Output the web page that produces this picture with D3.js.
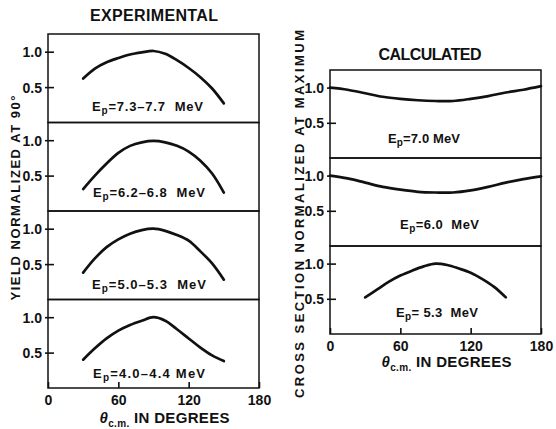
<!DOCTYPE html>
<html>
<head>
<meta charset="utf-8">
<script src="https://cdn.jsdelivr.net/npm/d3@7/dist/d3.min.js"></script>
<style>
  html, body { margin: 0; padding: 0; background: #fff; }
  svg text { font-family: "Liberation Sans", "DejaVu Sans", sans-serif; font-weight: bold; fill: #111; white-space: pre; }
</style>
</head>
<body>
<script>
// Angular distributions, normalized yield vs. centre-of-mass angle (degrees)
const expAngles = [30, 40, 50, 60, 70, 80, 90, 100, 110, 120, 130, 140, 150];
const exp73 = [0.62, 0.76, 0.85, 0.91, 0.96, 0.99, 1.01, 0.97, 0.88, 0.77, 0.64, 0.48, 0.27];
const exp62 = [0.31, 0.50, 0.67, 0.82, 0.92, 0.97, 0.99, 0.97, 0.92, 0.84, 0.71, 0.53, 0.26];
const exp50 = [0.38, 0.58, 0.74, 0.85, 0.93, 0.98, 1.00, 0.97, 0.91, 0.83, 0.68, 0.51, 0.28];
const exp40 = [0.40, 0.56, 0.70, 0.81, 0.89, 0.95, 1.00, 0.95, 0.83, 0.70, 0.57, 0.46, 0.38];

const calcAnglesFull = [0, 15, 30, 45, 60, 75, 90, 105, 120, 135, 150, 165, 180];
const calc70 = [1.00, 0.97, 0.92, 0.87, 0.84, 0.82, 0.81, 0.81, 0.84, 0.88, 0.93, 0.97, 1.02];
const calc60 = [1.00, 0.96, 0.90, 0.84, 0.80, 0.77, 0.76, 0.76, 0.79, 0.84, 0.90, 0.95, 0.99];
const calcAngles53 = [30, 40, 50, 60, 70, 80, 90, 100, 110, 120, 130, 140, 150];
const calc53 = [0.52, 0.63, 0.74, 0.83, 0.90, 0.96, 1.00, 0.98, 0.93, 0.87, 0.78, 0.67, 0.52];

const expLabels = ["=7.3–7.7\u00a0\u00a0MeV", "=6.2–6.8\u00a0\u00a0MeV", "=5.0–5.3\u00a0\u00a0MeV", "=4.0–4.4\u00a0MeV"];
const calcLabels = ["=7.0\u00a0MeV", "=6.0\u00a0\u00a0MeV", "=\u00a05.3\u00a0\u00a0MeV"];

const xTicks = [0, 60, 120, 180];
const yTicks = [0.5, 1.0];
const yDomain = [0, 1.25];

const expPanels = [
  { id: "e73", x: expAngles, y: exp73, label: expLabels[0] },
  { id: "e62", x: expAngles, y: exp62, label: expLabels[1] },
  { id: "e50", x: expAngles, y: exp50, label: expLabels[2] },
  { id: "e40", x: expAngles, y: exp40, label: expLabels[3] }
];
const calcPanels = [
  { id: "c70", x: calcAnglesFull, y: calc70, label: calcLabels[0] },
  { id: "c60", x: calcAnglesFull, y: calc60, label: calcLabels[1] },
  { id: "c53", x: calcAngles53, y: calc53, label: calcLabels[2] }
];

const svg = d3.select("body").append("svg")
  .attr("width", 556).attr("height", 429);

function drawStack(cfg) {
  const x = d3.scaleLinear().domain([0, 180]).range([cfg.left, cfg.right]);
  const band = d3.scaleBand().domain(cfg.panels.map(p => p.id))
    .range([cfg.top, cfg.bottom]).padding(0);
  const g = svg.append("g");

  cfg.panels.forEach((p, i) => {
    const y0 = band(p.id), y1 = y0 + band.bandwidth();
    const y = d3.scaleLinear().domain(yDomain).range([y1, y0]);
    const pg = g.append("g");

    // y axis ticks (crossing the frame)
    const ya = pg.append("g").attr("transform", `translate(${cfg.left},0)`)
      .call(d3.axisLeft(y).tickValues(yTicks).tickFormat(d3.format(".1f"))
        .tickSize(3).tickPadding(3));
    ya.select(".domain").remove();
    ya.selectAll(".tick line").attr("x2", -3).attr("x1", 6)
      .attr("stroke", "#111").attr("stroke-width", 1.6);
    ya.selectAll(".tick text").attr("font-size", 14).attr("fill", "#111")
      .attr("font-family", null).attr("dy", "0.36em");

    // curve
    const pts = p.x.map((a, k) => [a, p.y[k]]);
    pg.append("path")
      .datum(pts)
      .attr("fill", "none")
      .attr("stroke", "#111")
      .attr("stroke-width", 2.7)
      .attr("stroke-linecap", "round")
      .attr("d", d3.line().x(d => x(d[0])).y(d => y(d[1])).curve(d3.curveCatmullRom));

    // energy label
    const t = pg.append("text")
      .attr("x", cfg.labelX[i]).attr("y", y1 - cfg.labelOffset[i])
      .attr("font-size", 13)
      .attr("textLength", cfg.labelLen[i]).attr("lengthAdjust", "spacing");
    t.append("tspan").text("E");
    t.append("tspan").text("p").attr("font-size", 10).attr("dy", 3);
    t.append("tspan").text(p.label).attr("dy", -3);

    // panel frame
    pg.append("rect")
      .attr("x", cfg.left).attr("y", y0)
      .attr("width", cfg.right - cfg.left).attr("height", y1 - y0)
      .attr("fill", "none").attr("stroke", "#111").attr("stroke-width", 1.5);

    if (i === cfg.panels.length - 1) {
      const xa = pg.append("g").attr("transform", `translate(0,${y1})`)
        .call(d3.axisBottom(x).tickValues(xTicks).tickFormat(d3.format("d"))
          .tickSize(-6).tickPadding(7));
      xa.select(".domain").remove();
      xa.selectAll(".tick line").attr("stroke", "#111").attr("stroke-width", 1.6);
      xa.selectAll(".tick text").attr("font-size", 14).attr("fill", "#111")
        .attr("font-family", null);

      const tt = g.append("text")
        .attr("x", (cfg.left + cfg.right) / 2 + 11)
        .attr("y", y1 + cfg.titleGap)
        .attr("text-anchor", "middle").attr("font-size", 15)
        .attr("textLength", 130).attr("lengthAdjust", "spacing");
      tt.append("tspan").text("θ").attr("font-style", "italic");
      tt.append("tspan").text("c.m.").attr("font-size", 10).attr("dy", 4);
      tt.append("tspan").text(" IN DEGREES").attr("dy", -4);
    }
  });

  svg.append("text")
    .attr("x", cfg.headX).attr("y", cfg.headY)
    .attr("text-anchor", "middle").attr("font-size", 16)
    .attr("textLength", cfg.headLen).attr("lengthAdjust", "spacing")
    .text(cfg.heading);

  svg.append("text")
    .attr("transform", `translate(${cfg.yTitleX},${cfg.yTitleY}) rotate(-90)`)
    .attr("text-anchor", "middle").attr("font-size", 13)
    .attr("textLength", cfg.yTitleLen).attr("lengthAdjust", "spacing")
    .text(cfg.yTitle);
}

drawStack({
  panels: expPanels, left: 48, right: 259, top: 34, bottom: 388,
  labelX: [92, 93, 92, 93], labelOffset: [12, 14, 11, 10], labelLen: [111, 112, 114, 112],
  titleGap: 35, heading: "EXPERIMENTAL", headX: 154, headY: 21, headLen: 128,
  yTitle: "YIELD NORMALIZED AT 90°", yTitleX: 20, yTitleY: 198, yTitleLen: 205
});

drawStack({
  panels: calcPanels, left: 330, right: 541, top: 70, bottom: 334,
  labelX: [388, 400, 396], labelOffset: [15, 17, 17], labelLen: [72, 79, 82],
  titleGap: 33, heading: "CALCULATED", headX: 430, headY: 60, headLen: 103,
  yTitle: "CROSS SECTION NORMALIZED AT MAXIMUM", yTitleX: 304, yTitleY: 214, yTitleLen: 368
});
</script>
</body>
</html>
